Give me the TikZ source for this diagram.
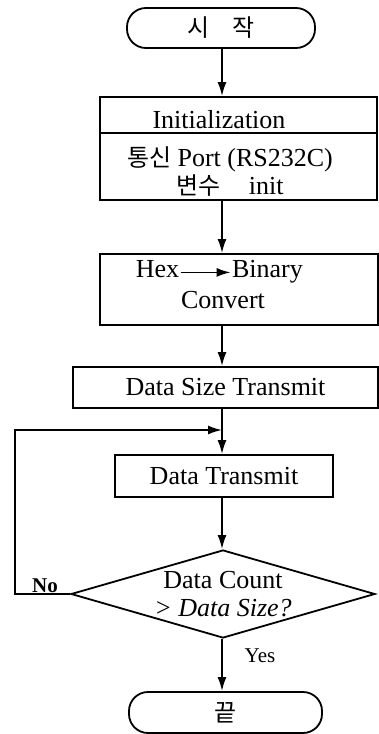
\documentclass[tikz,border=0pt]{standalone}
\usepackage{fontspec}
\setmainfont{Liberation Serif}
\newfontfamily\kr[Scale=0.92]{Noto Sans CJK KR}
\usetikzlibrary{arrows.meta,shapes.geometric}

\begin{document}
\begin{tikzpicture}[x=5pt,y=-5pt,line width=0.9pt,>={Latex[length=7pt,width=4.5pt]},
    font=\fontsize{13}{14}\selectfont,
    term/.style={draw,rounded corners=9.5pt,minimum height=20pt,inner sep=0pt},
    box/.style={draw,inner sep=0pt},
    small/.style={font=\fontsize{10.5}{12}\selectfont,inner sep=1pt}]
    \useasboundingbox (0,0) rectangle (37.9,73.4);
    \coordinate (axis) at (22.2,0);
    \coordinate (back) at (1.5,0);

    \node[term,minimum width=94pt] (start) at (22.1,2.8) {{\kr 시\quad 작}};

    \node[box,minimum width=138.5pt,minimum height=18pt] (init) at (23.85,11.5) {};
    \node[box,minimum width=138.5pt,minimum height=33.5pt] (initvar) at (23.85,16.65) {};
    \node[anchor=base] (initlbl) at (21.9,12.8) {Initialization};
    \node[align=center] (initvarlbl) at (23.0,17.2) {{\kr 통신} Port (RS232C)\\{\kr 변수}\hspace{1.1em}init};

    \node[box,minimum width=139pt,minimum height=35.5pt] (hex) at (23.9,28.95) {};
    \node[anchor=base,inner sep=0.3pt] (hexin) at (15.75,27.7) {Hex};
    \node[anchor=base,inner sep=0.3pt] (hexout) at (26.75,27.7) {Binary};
    \node[anchor=base] (hexconv) at (22.3,30.8) {Convert};

    \node[box,minimum width=152.5pt,minimum height=20.5pt] (dsize) at (22.55,38.75) {Data Size Transmit};
    \coordinate (jn) at (22.2,43.0);
    \node[box,minimum width=109pt,minimum height=21pt] (dtx) at (22.4,47.6) {Data Transmit};

    \node[draw,diamond,aspect=4,inner sep=-2pt,minimum width=152pt,minimum height=44pt,align=center] (check) at (22.3,59.4) {Data Count\\\textit{> Data Size?}};

    \node[term,minimum width=96.5pt,minimum height=20.5pt] (end) at (22.55,71.25) {{\kr 끝}};

    \draw[->] (hexin.mid east) -- (hexout.mid west);

    % main flow
    \draw[->] (start.south -| axis) -- (init.north -| axis);
    \draw[->] (initvar.south -| axis) -- (hex.north -| axis);
    \draw[->] (hex.south -| axis) -- (dsize.north -| axis);
    \draw[->] (dsize.south -| axis) -- (dtx.north -| axis);
    \draw[->] (dtx.south -| axis) -- (check.north -| axis);
    \draw[->] (check.south -| axis) -- (end.north -| axis);

    % loop back
    \draw[->] (check.west) -- (check.west -| back) |- (jn);
    \node[small,anchor=south,font=\fontsize{10.5}{12}\selectfont\bfseries] (no) at (4.5,59.6) {No};
    \node[small] (yes) at (26.0,65.6) {Yes};
\end{tikzpicture}
\end{document}
